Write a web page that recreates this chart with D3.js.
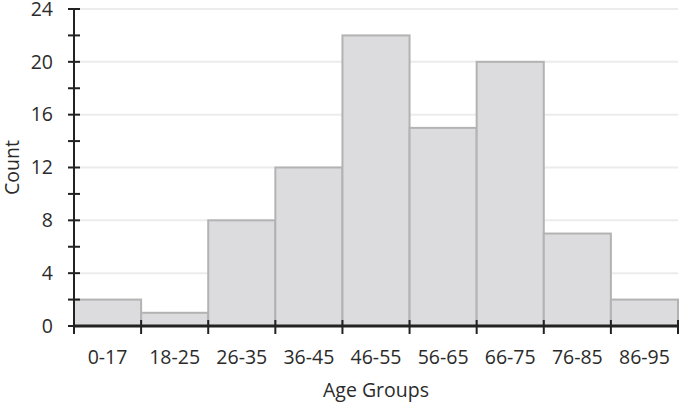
<!DOCTYPE html>
<html>
<head>
<meta charset="UTF-8">
<script src="https://cdn.jsdelivr.net/npm/d3@7"></script>
<style>
  body { margin: 0; background: #fff; }
  text { font-family: "Open Sans", sans-serif; fill: #2b2b2b; }
</style>
</head>
<body>
<svg width="685" height="403"></svg>
<script>
    var categories = ["0-17", "18-25", "26-35", "36-45", "46-55", "56-65", "66-75", "76-85", "86-95"];
    var counts = [2, 1, 8, 12, 22, 15, 20, 7, 2];
    var yTicks = [0, 4, 8, 12, 16, 20, 24];
    var yMinor = [2, 6, 10, 14, 18, 22];

    var svg = d3.select("svg");
    var pLeft = 74, pRight = 678, pTop = 9, pBottom = 326;
    var fontSize = 19.5;

    var x = d3.scaleBand().domain(categories).range([pLeft, pRight]).padding(0);
    var y = d3.scaleLinear().domain([0, 24]).range([pBottom, pTop]);

    // gridlines
    svg.append("g").selectAll("line")
        .data(yTicks.slice(1))
        .enter().append("line")
        .attr("x1", pLeft + 5).attr("x2", pRight)
        .attr("y1", function(d) { return y(d); })
        .attr("y2", function(d) { return y(d); })
        .attr("stroke", "#ececec")
        .attr("stroke-width", 2);

    // bars
    svg.append("g").selectAll("rect")
        .data(counts)
        .enter().append("rect")
        .attr("x", function(d, i) { return x(categories[i]); })
        .attr("width", x.bandwidth())
        .attr("y", function(d) { return y(d); })
        .attr("height", function(d) { return pBottom - y(d); })
        .attr("fill", "#dcdcde")
        .attr("stroke", "#b3b3b3")
        .attr("stroke-width", 2);

    // y axis
    var yAxis = svg.append("g");
    yAxis.append("line")
        .attr("x1", pLeft).attr("x2", pLeft)
        .attr("y1", pTop).attr("y2", pBottom)
        .attr("stroke", "#222").attr("stroke-width", 2);
    yAxis.selectAll(".major")
        .data(yTicks.concat(yMinor))
        .enter().append("line")
        .attr("x1", pLeft - 6).attr("x2", pLeft + 6)
        .attr("y1", function(d) { return y(d); })
        .attr("y2", function(d) { return y(d); })
        .attr("stroke", "#222").attr("stroke-width", 2);
    yAxis.selectAll("text")
        .data(yTicks)
        .enter().append("text")
        .attr("x", 53)
        .attr("y", function(d) { return y(d); })
        .attr("dy", "0.35em")
        .attr("text-anchor", "end")
        .attr("font-size", fontSize)
        .text(function(d) { return d; });

    // x axis
    var xAxis = svg.append("g");
    xAxis.append("line")
        .attr("x1", pLeft).attr("x2", pRight)
        .attr("y1", pBottom).attr("y2", pBottom)
        .attr("stroke", "#222").attr("stroke-width", 3);
    var edges = categories.map(function(c) { return x(c); }).concat([pRight]);
    xAxis.selectAll(".tick")
        .data(edges)
        .enter().append("line")
        .attr("x1", function(d) { return d; })
        .attr("x2", function(d) { return d; })
        .attr("y1", pBottom - 6).attr("y2", pBottom + 8)
        .attr("stroke", "#222").attr("stroke-width", 2);
    xAxis.selectAll("text")
        .data(categories)
        .enter().append("text")
        .attr("x", function(d) { return x(d) + x.bandwidth() / 2; })
        .attr("y", 357)
        .attr("dy", "0.35em")
        .attr("text-anchor", "middle")
        .attr("font-size", fontSize)
        .text(function(d) { return d; });

    svg.append("text")
        .attr("x", (pLeft + pRight) / 2)
        .attr("y", 390)
        .attr("dy", "0.35em")
        .attr("text-anchor", "middle")
        .attr("font-size", fontSize)
        .text("Age Groups");

    svg.append("text")
        .attr("transform", "translate(12," + ((pTop + pBottom) / 2) + ") rotate(-90)")
        .attr("dy", "0.35em")
        .attr("text-anchor", "middle")
        .attr("font-size", fontSize)
        .text("Count");
</script>
</body>
</html>
